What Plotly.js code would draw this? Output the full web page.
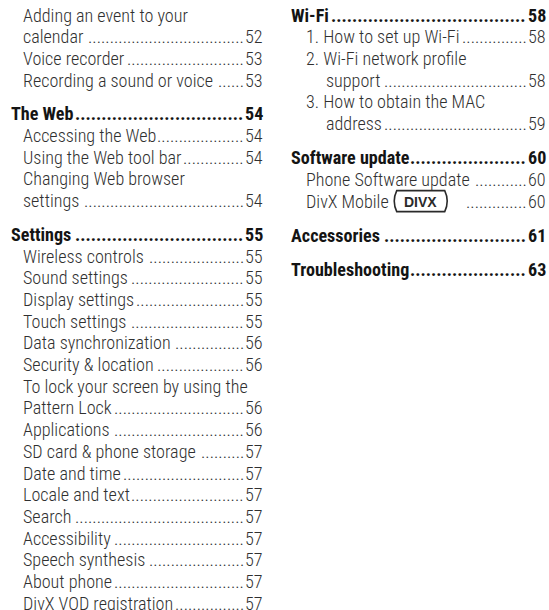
<!DOCTYPE html>
<html><head><meta charset="utf-8">
<script src="https://cdn.plot.ly/plotly-3.0.1.min.js"></script>
<style>html,body{margin:0;padding:0;background:#fff;}#toc{width:549px;height:610px;}</style>
</head><body><div id="toc"></div>
<script>
// ---- content (read from the page) ----
const leftTitles = ["Adding an event to your\ncalendar","Voice recorder","Recording a sound or voice","The Web","Accessing the Web","Using the Web tool bar","Changing Web browser\nsettings","Settings","Wireless controls","Sound settings","Display settings","Touch settings","Data synchronization","Security & location","To lock your screen by using the\nPattern Lock","Applications","SD card & phone storage","Date and time","Locale and text","Search","Accessibility","Speech synthesis","About phone","DivX VOD registration"];
const leftPages = [52,53,53,54,54,54,54,55,55,55,55,55,56,56,56,56,57,57,57,57,57,57,57,57];
const leftLevels = ["sub","sub","sub","head","sub","sub","sub","head","sub","sub","sub","sub","sub","sub","sub","sub","sub","sub","sub","sub","sub","sub","sub","sub"];
const rightTitles = ["Wi-Fi","1. How to set up Wi-Fi","2. Wi-Fi network profile\nsupport","3. How to obtain the MAC\naddress","Software update","Phone Software update","DivX Mobile","Accessories","Troubleshooting"];
const rightPages = [58,58,58,59,60,60,60,61,63];
const rightLevels = ["head","num","num","num","head","sub","logo","head","head"];
const logoLabel = "DIVX";

// ---- styling / layout ----
const FAMILY = '"Roboto Condensed", "Liberation Sans Narrow", "DejaVu Sans Condensed", sans-serif';
const SIZE = 18.1;
const SUB_WEIGHT = 300, HEAD_WEIGHT = 700;
const SUB_COLOR = '#303030', HEAD_COLOR = '#141414';
const Y0 = 15, STEP = 21.7;
const cols = [
  {titles:leftTitles, pages:leftPages, levels:leftLevels, gap:12, headX:9.5, subX:22, contX:40, rightX:263.5},
  {titles:rightTitles, pages:rightPages, levels:rightLevels, gap:12.5, headX:290, subX:305, contX:324.5, rightX:546.5}
];

const cv = document.createElement('canvas').getContext('2d');
function w(txt, bold){ cv.font = (bold?HEAD_WEIGHT:SUB_WEIGHT) + ' ' + SIZE + 'px ' + FAMILY; return cv.measureText(txt).width; }
function esc(s){ return s.replace(/&/g,'&amp;'); }

const annotations = [], shapes = [];
function ann(x, y, text, anchor, bold, color){
  annotations.push({xref:'x', yref:'y', x:x, y:y, text:esc(text), showarrow:false, xanchor:anchor, yanchor:'middle',
    borderpad:0, font:{family:FAMILY, size:SIZE, color:color, weight:bold?HEAD_WEIGHT:SUB_WEIGHT}});
}

cols.forEach(col => {
  let y = Y0;
  col.titles.forEach((t, i) => {
    const lvl = col.levels[i];
    const bold = lvl === 'head';
    const color = bold ? HEAD_COLOR : SUB_COLOR;
    if (bold && i > 0) y += col.gap;
    const lines = t.split('\n');
    lines.forEach((ln, k) => {
      const x = bold ? col.headX : (lvl === 'num' && k > 0 ? col.contX : col.subX);
      ann(x, y, ln, 'left', bold, color);
      if (k === lines.length - 1) {
        const pg = String(col.pages[i]);
        const pw = w(pg, bold);
        ann(col.rightX, y, pg, 'right', bold, color);
        let end = x + w(ln, bold) + 3;
        if (lvl === 'logo') {
          const lx0 = x + w(ln, false) + 5, lx1 = lx0 + 56, ty = y - 10.5, by = y + 10.5;
          shapes.push({type:'path', xref:'x', yref:'y',
            path:`M ${lx0+4},${ty} L ${lx1-4},${ty} Q ${lx1+1},${y} ${lx1-4},${by} L ${lx0+4},${by} Q ${lx0-1},${y} ${lx0+4},${ty} Z`,
            line:{color:'#2a2a2a', width:1.6}, fillcolor:'#ffffff'});
          annotations.push({xref:'x', yref:'y', x:(lx0+lx1)/2, y:y+0.5, text:'<b>'+logoLabel+'</b>', showarrow:false,
            xanchor:'center', yanchor:'middle', borderpad:0,
            font:{family:'"Liberation Sans", Arial, sans-serif', size:14, color:'#2a2a2a'}});
          end = lx1 + 18;
        }
        const dw = w('.', bold);
        const avail = (col.rightX - pw - 1) - end;
        const n = Math.max(0, Math.floor(avail / dw));
        if (n > 0) ann(col.rightX - pw - 1, y, '.'.repeat(n), 'right', bold, color);
      }
      y += STEP;
    });
  });
});

const layout = {
  width:549, height:610, margin:{l:0, r:0, t:0, b:0},
  paper_bgcolor:'#ffffff', plot_bgcolor:'#ffffff',
  xaxis:{range:[0,549], visible:false, fixedrange:true},
  yaxis:{range:[610,0], visible:false, fixedrange:true},
  showlegend:false, annotations:annotations, shapes:shapes
};
Plotly.newPlot('toc', [], layout, {staticPlot:true, displayModeBar:false});
</script></body></html>
